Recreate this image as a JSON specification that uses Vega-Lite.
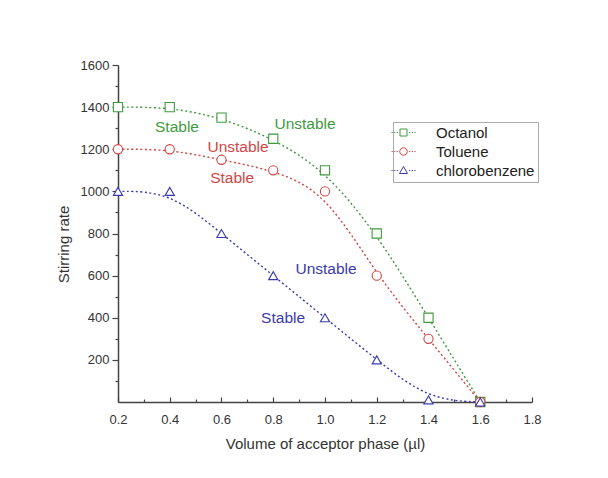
{
  "$schema": "https://vega.github.io/schema/vega-lite/v6.json",
  "width": 414,
  "height": 337,
  "autosize": {"type": "none"},
  "padding": {"left": 118, "top": 65, "right": 76, "bottom": 76},
  "background": "white",
  "config": {"font": "Liberation Sans", "view": {"stroke": null}},
  "datasets": {
    "curves": [
      {"v": 0.2, "rate": 1400, "solvent": "Octanol"},
      {"v": 0.4, "rate": 1400, "solvent": "Octanol"},
      {"v": 0.6, "rate": 1350, "solvent": "Octanol"},
      {"v": 0.8, "rate": 1250, "solvent": "Octanol"},
      {"v": 1.0, "rate": 1100, "solvent": "Octanol"},
      {"v": 1.2, "rate": 800, "solvent": "Octanol"},
      {"v": 1.4, "rate": 400, "solvent": "Octanol"},
      {"v": 1.6, "rate": 0, "solvent": "Octanol"},
      {"v": 0.2, "rate": 1200, "solvent": "Toluene"},
      {"v": 0.4, "rate": 1200, "solvent": "Toluene"},
      {"v": 0.6, "rate": 1150, "solvent": "Toluene"},
      {"v": 0.8, "rate": 1100, "solvent": "Toluene"},
      {"v": 1.0, "rate": 1000, "solvent": "Toluene"},
      {"v": 1.2, "rate": 600, "solvent": "Toluene"},
      {"v": 1.4, "rate": 300, "solvent": "Toluene"},
      {"v": 1.6, "rate": 0, "solvent": "Toluene"},
      {"v": 0.2, "rate": 1000, "solvent": "chlorobenzene"},
      {"v": 0.4, "rate": 1000, "solvent": "chlorobenzene"},
      {"v": 0.6, "rate": 800, "solvent": "chlorobenzene"},
      {"v": 0.8, "rate": 600, "solvent": "chlorobenzene"},
      {"v": 1.0, "rate": 400, "solvent": "chlorobenzene"},
      {"v": 1.2, "rate": 200, "solvent": "chlorobenzene"},
      {"v": 1.4, "rate": 10, "solvent": "chlorobenzene"},
      {"v": 1.6, "rate": 0, "solvent": "chlorobenzene"}
    ],
    "notes": [
      {"v": 0.428, "rate": 1306, "label": "Stable", "solvent": "Octanol"},
      {"v": 0.923, "rate": 1320, "label": "Unstable", "solvent": "Octanol"},
      {"v": 0.664, "rate": 1211, "label": "Unstable", "solvent": "Toluene"},
      {"v": 0.641, "rate": 1064, "label": "Stable", "solvent": "Toluene"},
      {"v": 1.004, "rate": 631, "label": "Unstable", "solvent": "chlorobenzene"},
      {"v": 0.838, "rate": 399, "label": "Stable", "solvent": "chlorobenzene"}
    ]
  },
  "encoding": {
    "x": {
      "field": "v",
      "type": "quantitative",
      "title": "Volume of acceptor phase (µl)",
      "scale": {"domain": [0.2, 1.8], "nice": false, "zero": false},
      "axis": {
        "values": [0.2, 0.3, 0.4, 0.5, 0.6, 0.7, 0.8, 0.9, 1.0, 1.1, 1.2, 1.3, 1.4, 1.5, 1.6, 1.7, 1.8],
        "labelExpr": "round(datum.value*10)%2==0 ? format(datum.value,'.1f') : ''",
        "tickSize": {"condition": {"test": "round(datum.value*10)%2==0", "value": -5}, "value": -3},
        "labelPadding": 16,
        "labelFontSize": 13,
        "labelColor": "#333",
        "labelFlush": false,
        "labelOverlap": false,
        "titleFontSize": 15,
        "titleFontWeight": "normal",
        "titleColor": "#333",
        "titlePadding": 8,
        "domainColor": "#444",
        "domainWidth": 1.5,
        "tickColor": "#444",
        "tickWidth": 1.2,
        "grid": false
      }
    },
    "y": {
      "field": "rate",
      "type": "quantitative",
      "title": "Stirring rate",
      "scale": {"domain": [0, 1600], "nice": false},
      "axis": {
        "values": [100, 200, 300, 400, 500, 600, 700, 800, 900, 1000, 1100, 1200, 1300, 1400, 1500, 1600],
        "labelExpr": "datum.value%200==0 ? datum.value : ''",
        "tickSize": {"condition": {"test": "datum.value%200==0", "value": 6}, "value": 3},
        "labelPadding": 3,
        "labelFontSize": 13,
        "labelColor": "#333",
        "labelFlush": false,
        "labelOverlap": false,
        "titleFontSize": 15,
        "titleFontWeight": "normal",
        "titleColor": "#333",
        "titleX": -55,
        "titleY": 179,
        "titleAngle": -90,
        "titleBaseline": "middle",
        "titleAlign": "center",
        "domainColor": "#444",
        "domainWidth": 1.5,
        "tickColor": "#444",
        "tickWidth": 1.2,
        "grid": false
      }
    }
  },
  "layer": [
    {
      "data": {"name": "curves"},
      "mark": {"type": "line", "interpolate": "basis", "strokeDash": [2, 2.5], "strokeWidth": 1.4},
      "encoding": {
        "color": {
          "field": "solvent",
          "type": "nominal",
          "scale": {"domain": ["Octanol", "Toluene", "chlorobenzene"], "range": ["#3f9a3f", "#d24545", "#3a3aad"]},
          "legend": {
            "title": null,
            "orient": "none",
            "legendX": 275,
            "legendY": 57,
            "direction": "vertical",
            "labelFontSize": 15,
            "labelColor": "#222",
            "symbolSize": 4,
            "labelOffset": 25,
            "padding": 3,
            "rowPadding": 3,
            "strokeColor": "#aaa",
            "fillColor": "white",
            "symbolStrokeWidth": 1,
            "symbolFillColor": "transparent",
            "encode": {"symbols": {"update": {"shape": {"signal": "datum.value==='Octanol' ? 'M-12,0H-10.8M-9.4,0H-8.2M-6.8,0H-5.6M-3.5,-3.5H3.5V3.5H-3.5ZM5.6,0H6.8M8.2,0H9.4M10.8,0H12' : datum.value==='Toluene' ? 'M-12,0H-10.8M-9.4,0H-8.2M-6.8,0H-5.6M3.75,0A3.75,3.75,0,1,1,-3.75,0A3.75,3.75,0,1,1,3.75,0M5.6,0H6.8M8.2,0H9.4M10.8,0H12' : 'M-12,0H-10.8M-9.4,0H-8.2M-6.8,0H-5.6M0,-4L4,3L-4,3ZM5.6,0H6.8M8.2,0H9.4M10.8,0H12'"}, "fill": {"value": "transparent"}, "fillOpacity": {"value": 0}, "strokeDash": {"value": []}}}}
          }
        }
      }
    },
    {
      "data": {"name": "curves"},
      "transform": [{"filter": "datum.solvent === 'Octanol'"}],
      "mark": {"type": "point", "shape": "square", "filled": false, "fill": "white", "fillOpacity": 1, "stroke": "#3f9a3f", "strokeWidth": 1.1, "opacity": 1, "size": 85}
    },
    {
      "data": {"name": "curves"},
      "transform": [{"filter": "datum.solvent === 'Toluene'"}],
      "mark": {"type": "point", "shape": "circle", "filled": false, "fill": "white", "fillOpacity": 1, "stroke": "#d24545", "strokeWidth": 1.1, "opacity": 1, "size": 85}
    },
    {
      "data": {"name": "curves"},
      "transform": [{"filter": "datum.solvent === 'chlorobenzene'"}],
      "mark": {"type": "point", "shape": "triangle-up", "filled": false, "fill": "white", "fillOpacity": 1, "stroke": "#3a3aad", "strokeWidth": 1.1, "opacity": 1, "size": 85}
    },
    {
      "data": {"name": "notes"},
      "mark": {"type": "text", "fontSize": 15.5, "align": "center", "baseline": "middle"},
      "encoding": {
        "text": {"field": "label"},
        "fill": {
          "field": "solvent",
          "type": "nominal",
          "scale": {"domain": ["Octanol", "Toluene", "chlorobenzene"], "range": ["#3f9a3f", "#d24545", "#3a3aad"]},
          "legend": null
        }
      }
    }
  ]
}
